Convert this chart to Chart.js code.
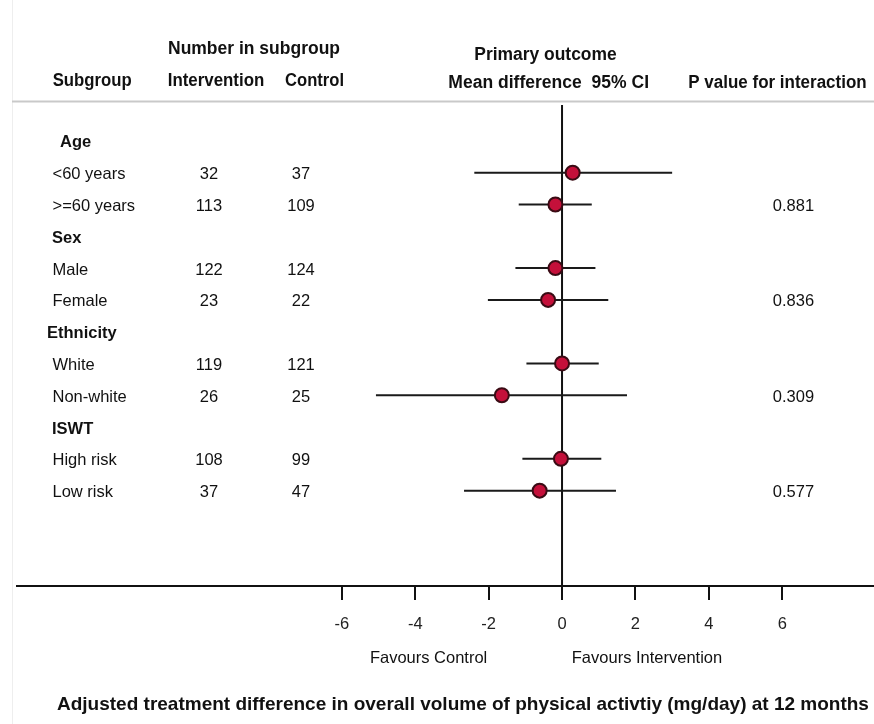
<!DOCTYPE html>
<html>
<head>
<meta charset="utf-8">
<script src="https://cdn.jsdelivr.net/npm/chart.js@4.4.1/dist/chart.umd.min.js"></script>
<style>
  html, body { margin: 0; padding: 0; background: #fff; }
  canvas { display: block; }
</style>
</head>
<body>
<canvas id="forest" width="874" height="724"></canvas>
<script>
// rows of the forest plot, top to bottom
const rowLabels = ['Age', '<60 years', '>=60 years', 'Sex', 'Male', 'Female',
                   'Ethnicity', 'White', 'Non-white', 'ISWT', 'High risk', 'Low risk'];
const isGroup = [true, false, false, true, false, false, true, false, false, true, false, false];
const nIntervention = ['', '32', '113', '', '122', '23', '', '119', '26', '', '108', '37'];
const nControl = ['', '37', '109', '', '124', '22', '', '121', '25', '', '99', '47'];
const meanDiff = [null, 0.29, -0.18, null, -0.18, -0.38, null, 0.0, -1.64, null, -0.03, -0.61];
const ciLow = [null, -2.39, -1.18, null, -1.27, -2.02, null, -0.97, -5.07, null, -1.08, -2.67];
const ciHigh = [null, 3.0, 0.81, null, 0.91, 1.26, null, 1.0, 1.77, null, 1.07, 1.47];
const pInteraction = ['', '', '0.881', '', '', '0.836', '', '', '0.309', '', '', '0.577'];
const xTicks = [-6, -4, -2, 0, 2, 4, 6];

const FONT = 'Liberation Sans, Arial, sans-serif';
Chart.defaults.font.family = FONT;

// CI segments, broken apart with empty points
let ciPoints = [];
let meanPoints = [];
for (let i = 0; i < rowLabels.length; i++) {
    if (meanDiff[i] === null) continue;
    ciPoints.push({x: ciLow[i], y: i});
    ciPoints.push({x: ciHigh[i], y: i});
    ciPoints.push({x: null, y: null});
    meanPoints.push({x: meanDiff[i], y: i});
}

function txt(ctx, s, x, y, font, align, maxW) {
    ctx.font = font;
    ctx.textAlign = align;
    ctx.textBaseline = 'middle';
    ctx.fillStyle = '#111';
    if (maxW) ctx.fillText(s, x, y, maxW);
    else ctx.fillText(s, x, y);
}

const forestText = {
    id: 'forestText',
    beforeDatasetsDraw(chart) {
        const ctx = chart.ctx;
        const x0 = chart.scales.x.getPixelForValue(0);
        const area = chart.chartArea;
        ctx.save();
        ctx.strokeStyle = '#111';
        ctx.lineWidth = 2;
        ctx.beginPath();
        ctx.moveTo(x0, area.top);
        ctx.lineTo(x0, area.bottom);
        ctx.stroke();
        ctx.restore();
    },
    afterDraw(chart) {
        const ctx = chart.ctx;
        const y = chart.scales.y;
        ctx.save();

        // faint panel edge and header rule
        ctx.strokeStyle = '#eeeeee';
        ctx.lineWidth = 1;
        ctx.beginPath();
        ctx.moveTo(12.5, 0);
        ctx.lineTo(12.5, 724);
        ctx.stroke();
        ctx.strokeStyle = '#c9c9c9';
        ctx.lineWidth = 2;
        ctx.beginPath();
        ctx.moveTo(12, 101.5);
        ctx.lineTo(874, 101.5);
        ctx.stroke();

        // column headers
        const hb = 'bold 18px ' + FONT;
        txt(ctx, 'Number in subgroup', 168, 49, hb, 'left', 172);
        txt(ctx, 'Subgroup', 52.7, 81, hb, 'left', 79);
        txt(ctx, 'Intervention', 167.7, 81, hb, 'left', 96.6);
        txt(ctx, 'Control', 285, 81, hb, 'left', 59);
        txt(ctx, 'Primary outcome', 474.3, 55, hb, 'left', 142.4);
        txt(ctx, 'Mean difference  95% CI', 448.3, 83, hb, 'left', 200.7);
        txt(ctx, 'P value for interaction', 688.3, 83, hb, 'left', 178.4);

        // rows
        const reg = '16.5px ' + FONT;
        const bold = 'bold 16.5px ' + FONT;
        for (let i = 0; i < rowLabels.length; i++) {
            const py = y.getPixelForValue(i) + 2;
            if (isGroup[i]) {
                let gx = 52;
                if (rowLabels[i] === 'Age') gx = 60;
                if (rowLabels[i] === 'Ethnicity') gx = 47;
                txt(ctx, rowLabels[i], gx, py, bold, 'left');
            } else {
                txt(ctx, rowLabels[i], 52.5, py, reg, 'left');
            }
            txt(ctx, nIntervention[i], 209, py, reg, 'center');
            txt(ctx, nControl[i], 301, py, reg, 'center');
            txt(ctx, pInteraction[i], 793.5, py, reg, 'center');
        }

        // axis annotations
        txt(ctx, 'Favours Control', 428.6, 658, reg, 'center');
        txt(ctx, 'Favours Intervention', 647, 658, reg, 'center');
        txt(ctx, 'Adjusted treatment difference in overall volume of physical activtiy (mg/day) at 12 months',
            57, 705, 'bold 19px ' + FONT, 'left');
        ctx.restore();
    }
};

new Chart(document.getElementById('forest'), {
    type: 'scatter',
    data: {
        datasets: [{
            label: '95% CI',
            data: ciPoints,
            order: 1,
            showLine: true,
            spanGaps: false,
            borderColor: '#1a1a1a',
            borderWidth: 2,
            pointRadius: 0
        }, {
            label: 'Mean difference',
            data: meanPoints,
            order: 0,
            pointRadius: 7,
            pointHoverRadius: 7,
            backgroundColor: '#c4103a',
            borderColor: '#3a0b14',
            borderWidth: 2
        }]
    },
    options: {
        responsive: false,
        animation: false,
        devicePixelRatio: 1,
        layout: {
            autoPadding: false,
            padding: { left: 17, right: 0, top: 105, bottom: 0 }
        },
        plugins: {
            legend: { display: false },
            tooltip: { enabled: false }
        },
        scales: {
            x: {
                type: 'linear',
                min: -14.85,
                max: 8.5,
                afterBuildTicks: (scale) => {
                    scale.ticks = xTicks.map(v => ({value: v}));
                },
                afterFit: (scale) => { scale.height = 138; },
                grid: {
                    drawOnChartArea: false,
                    drawTicks: true,
                    tickLength: 14,
                    color: '#111',
                    lineWidth: 2
                },
                border: { display: true, color: '#111', width: 2 },
                ticks: {
                    color: '#222',
                    padding: 15,
                    font: { size: 16.5 }
                }
            },
            y: {
                type: 'linear',
                display: false,
                reverse: true,
                min: -1.13,
                max: 14
            }
        }
    },
    plugins: [forestText]
});
</script>
</body>
</html>
